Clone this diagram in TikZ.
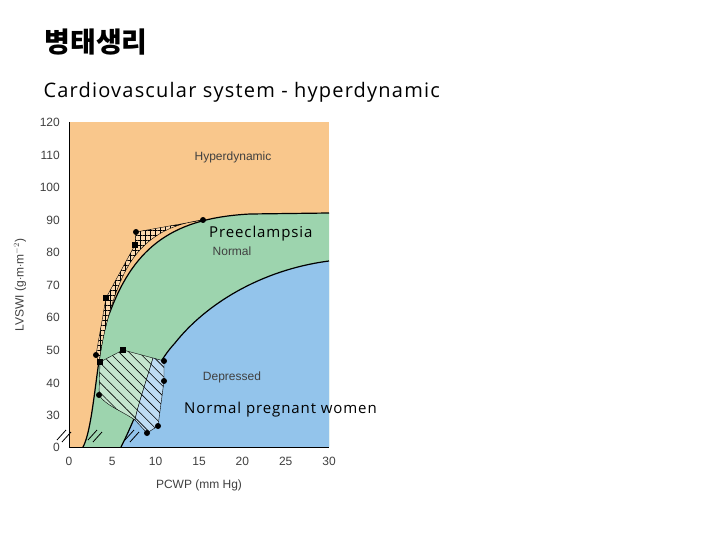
\documentclass[tikz,border=0pt]{standalone}
\usepackage{fontspec}
\setmainfont{Liberation Sans}
\newfontfamily\krfont{Noto Sans CJK KR}
\newfontfamily\slidefont[LetterSpace=6]{Open Sans}
\usetikzlibrary{patterns.meta,positioning}
\definecolor{hyperC}{HTML}{F9C78C}
\definecolor{normalC}{HTML}{9DD4AE}
\definecolor{deprC}{HTML}{93C4EB}
\tikzset
{
    ticklabel/.style = {font=\fontsize{12}{13}\selectfont, text=black!75, inner sep=1pt},
    zonelabel/.style = {font=\fontsize{12}{13}\selectfont, text=black!75},
    overlay/.style   = {font=\slidefont\fontsize{15}{17}\selectfont, inner sep=0pt, anchor=west},
    dotmark/.style   = {circle, fill=black, inner sep=0pt, minimum size=6pt},
    boxmark/.style   = {rectangle, fill=black, inner sep=0pt, minimum size=6pt},
    brk/.style       = {thick}
}
\begin{document}
\begin{tikzpicture}[x=1pt, y=-1pt]
   \useasboundingbox (0,0) rectangle (720,540);
   % zones
   \fill[hyperC] (69,122) rectangle (329,447);
   \fill[normalC] (83,447) .. controls (95,425) and (97,340) .. (110,312)
        .. controls (135,245) and (175,218) .. (250,214) -- (329,213) -- (329,447) -- cycle;
   \fill[deprC] (121,447) .. controls (140,410) and (150,370) .. (175,343)
        .. controls (205,305) and (260,270) .. (329,261) -- (329,447) -- cycle;
   \draw[very thick] (83,447) .. controls (95,425) and (97,340) .. (110,312)
        .. controls (135,245) and (175,218) .. (250,214) -- (329,213);
   \draw[very thick] (121,447) .. controls (140,410) and (150,370) .. (175,343)
        .. controls (205,305) and (260,270) .. (329,261);
   % preeclampsia
   \fill[hyperC!70!white] (96,355) -- (106,298) -- (135,245) -- (136,232) -- (203,220)
        .. controls (170,224) and (140,238) .. (122,278)
        .. controls (110,305) and (103,335) .. (99,362) -- cycle;
   \draw[thin, pattern={Hatch[angle=0, distance=5pt, line width=0.5pt]}]
        (96,355) -- (106,298) -- (135,245) -- (136,232) -- (203,220)
        .. controls (170,224) and (140,238) .. (122,278)
        .. controls (110,305) and (103,335) .. (99,362) -- cycle;
   % normal pregnant women
   \filldraw[fill=normalC!60!white, thin] (100,362) -- (123,350) -- (153,358)
        .. controls (145,385) and (138,405) .. (135,420)
        .. controls (120,410) and (105,405) .. (99,395) -- cycle;
   \filldraw[fill=deprC!60!white, thin] (153,358) -- (164,361) -- (164,381) -- (158,426) -- (147,433) -- (135,420)
        .. controls (138,405) and (145,385) .. (153,358);
   \pattern[pattern={Lines[angle=-45, distance=7pt, line width=0.6pt]}]
        (100,362) -- (123,350) -- (153,358) -- (164,361) -- (164,381)
        -- (158,426) -- (147,433) -- (135,420) .. controls (120,410) and (105,405) .. (99,395) -- cycle;
   % markers
   \node (p1) [dotmark] at (96,355) {};
   \node (p2) [boxmark] at (106,298) {};
   \node (p3) [boxmark] at (135,245) {};
   \node (p4) [dotmark] at (136,232) {};
   \node (p5) [dotmark] at (203,220) {};
   \node (n1) [boxmark] at (100,362) {};
   \node (n2) [dotmark] at (99,395) {};
   \node (n3) [boxmark] at (123,350) {};
   \node (n4) [dotmark] at (164,361) {};
   \node (n5) [dotmark] at (164,381) {};
   \node (n6) [dotmark] at (158,426) {};
   \node (n7) [dotmark] at (147,433) {};
   % axes
   \draw[thin] (69,122) -- (69,447) -- (329,447);
   \foreach \v/\py in {120/122,110/155,100/187,90/220,80/252,70/285,60/317,50/350,40/383,30/415,0/447}
      \node[ticklabel, anchor=east] at (61,\py) {\v};
   \foreach \v in {0,5,...,30}
      \node[ticklabel, anchor=north] at ({69+8.667*\v},456) {\v};
   \node (xlab) [ticklabel] at (199,485) {PCWP (mm Hg)};
   \node (ylab) [ticklabel, rotate=90] at (20,285) {LVSWI (g$\cdot$m$\cdot$m$^{-2}$)};
   % breaks
   \foreach \bx in {63,94,131}
      \draw[brk] (\bx-6,440) -- (\bx+3,430) (\bx-1,442) -- (\bx+8,432);
   % zone labels
   \node (hyp) [zonelabel] at (233,157) {Hyperdynamic};
   \node (nor) [zonelabel] at (232,251) {Normal};
   \node (dep) [zonelabel] at (232,377) {Depressed};
   \node (pre) [overlay] at (209,234) {Preeclampsia};
   \node (npw) [overlay] at (184,410) {Normal pregnant women};
   % titles
   \node (title) [anchor=west, font=\krfont\bfseries\fontsize{28}{30}\selectfont] at (41,42) {병태생리};
   \node (sub) [anchor=west, font=\slidefont\fontsize{20}{24}\selectfont] at (40,92) {Cardiovascular system - hyperdynamic};
\end{tikzpicture}
\end{document}
